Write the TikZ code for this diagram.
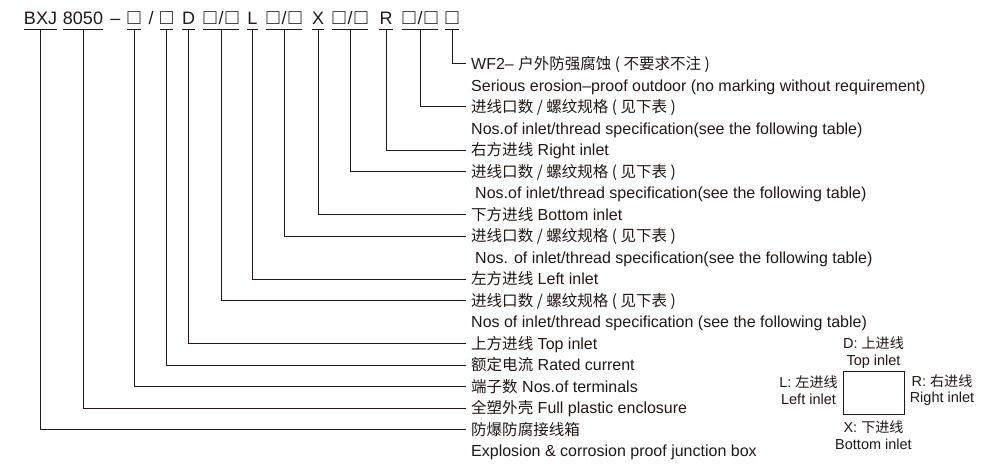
\documentclass[tikz,border=0pt]{standalone}
\usepackage{fontspec}
\setmainfont{Liberation Sans}
\newfontfamily\cjk{Noto Sans CJK SC}[Scale=0.97]
\definecolor{ink}{RGB}{35,24,21}
\newcommand\codebox{{\fontsize{21.5}{21.5}\selectfont □}}
\newcommand\codepair{\codebox\kern2pt/\kern2pt\codebox}

\tikzset{
  hdr/.style={anchor=base, inner sep=0pt, text depth=4pt, font=\fontsize{18}{20}\selectfont},
  lbl/.style={anchor=west, inner sep=0pt, text height=12pt, text depth=0.5pt, font=\fontsize{16}{18}\selectfont},
  lead/.style={draw=ink, line width=1pt, shorten >=5pt},
  side/.style={align=center, inner sep=0pt, font=\fontsize{14.5}{16.5}\selectfont},
}

\begin{document}
\begin{tikzpicture}[x=1pt,y=1pt,yscale=-1,every node/.style={text=ink}]
\useasboundingbox [fill=white] (0,0) rectangle (1000,468);

% Text Node (code line)
\draw (40.5,25) node [hdr] (hBXJ) {BXJ};
\draw (83,25) node [hdr] (h8050) {8050};
\draw (115.5,25) node [hdr] (hDash) {–};
\draw (134,25) node [hdr] (hT) {\codebox};
\draw (151,25) node [hdr] (hSl) {/};
\draw (166.5,25) node [hdr] (hC) {\codebox};
\draw (188.5,25) node [hdr] (hD) {D};
\draw (221,25) node [hdr] (hDs) {\codepair};
\draw (252.5,25) node [hdr] (hL) {L};
\draw (284,25) node [hdr] (hLs) {\codepair};
\draw (318,25) node [hdr] (hX) {X};
\draw (350,25) node [hdr] (hXs) {\codepair};
\draw (386,25) node [hdr] (hR) {R};
\draw (420,25) node [hdr] (hRs) {\codepair};
\draw (452,25) node [hdr] (hW) {\codebox};

%Straight Lines (underlines)
\draw [ink,line width=1pt] (hBXJ.south west) -- (hBXJ.south east);
\draw [ink,line width=1pt] (h8050.south west) -- (h8050.south east);
\draw [ink,line width=1pt] (hT.south west) -- (hT.south east);
\draw [ink,line width=1pt] (hC.south west) -- (hC.south east);
\draw [ink,line width=1pt] (hD.south west) -- (hD.south east);
\draw [ink,line width=1pt] (hDs.south west) -- (hDs.south east);
\draw [ink,line width=1pt] (hL.south west) -- (hL.south east);
\draw [ink,line width=1pt] (hLs.south west) -- (hLs.south east);
\draw [ink,line width=1pt] (hX.south west) -- (hX.south east);
\draw [ink,line width=1pt] (hXs.south west) -- (hXs.south east);
\draw [ink,line width=1pt] (hR.south west) -- (hR.south east);
\draw [ink,line width=1pt] (hRs.south west) -- (hRs.south east);
\draw [ink,line width=1pt] (hW.south west) -- (hW.south east);

% Text Node (explanations)
\draw (471,64) node [lbl] (t0) {WF2– {\cjk 户外防强腐蚀 ( 不要求不注 )}};
\draw (471,85.5) node [lbl] (t1) {Serious erosion–proof outdoor (no marking without requirement)};
\draw (471,107) node [lbl] (t2) {\cjk 进线口数 / 螺纹规格 ( 见下表 )};
\draw (471,128.5) node [lbl] (t3) {Nos.of inlet/thread specification(see the following table)};
\draw (471,150) node [lbl] (t4) {{\cjk 右方进线} Right inlet};
\draw (471,171.5) node [lbl] (t5) {\cjk 进线口数 / 螺纹规格 ( 见下表 )};
\draw (475,193) node [lbl] (t6) {Nos.of inlet/thread specification(see the following table)};
\draw (471,214.5) node [lbl] (t7) {{\cjk 下方进线} Bottom inlet};
\draw (471,236) node [lbl] (t8) {\cjk 进线口数 / 螺纹规格 ( 见下表 )};
\draw (475,257.5) node [lbl] (t9) {Nos. of inlet/thread specification(see the following table)};
\draw (471,279) node [lbl] (t10) {{\cjk 左方进线} Left inlet};
\draw (471,300.5) node [lbl] (t11) {\cjk 进线口数 / 螺纹规格 ( 见下表 )};
\draw (471,322) node [lbl] (t12) {Nos of inlet/thread specification (see the following table)};
\draw (471,343.5) node [lbl] (t13) {{\cjk 上方进线} Top inlet};
\draw (471,365) node [lbl] (t14) {{\cjk 额定电流} Rated current};
\draw (471,386.5) node [lbl] (t15) {{\cjk 端子数} Nos.of terminals};
\draw (471,408) node [lbl] (t16) {{\cjk 全塑外壳} Full plastic enclosure};
\draw (471,429.5) node [lbl] (t17) {\cjk 防爆防腐接线箱};
\draw (471,451) node [lbl] (t18) {Explosion \& corrosion proof junction box};

%Straight Lines (leaders)
\draw [lead] (hW.south) |- (t0.west);
\draw [lead] (hRs.south) |- (t2.west);
\draw [lead] (hR.south) |- (t4.west);
\draw [lead] (hXs.south) |- (t5.west);
\draw [lead] (hX.south) |- (t7.west);
\draw [lead] (hLs.south) |- (t8.west);
\draw [lead] (hL.south) |- (t10.west);
\draw [lead] (hDs.south) |- (t11.west);
\draw [lead] (hD.south) |- (t13.west);
\draw [lead] (hC.south) |- (t14.west);
\draw [lead] (hT.south) |- (t15.west);
\draw [lead] (h8050.south) |- (t16.west);
\draw [lead] (hBXJ.south) |- (t17.west);

%Shape: Rectangle (inlet sides)
\draw (873.5,392.5) node [draw=ink,line width=1pt,minimum width=61pt,minimum height=43pt,inner sep=0pt] (box) {};

% Text Node
\draw (873.5,352.5) node [side] (sTop) {D: {\cjk 上进线}\\Top inlet};
\draw (808.5,390) node [side] (sLeft) {L: {\cjk 左进线}\\Left inlet};
\draw (942,390) node [side] (sRight) {R: {\cjk 右进线}\\Right inlet};
\draw (873.5,435) node [side] (sBot) {X: {\cjk 下进线}\\Bottom inlet};

\end{tikzpicture}
\end{document}
